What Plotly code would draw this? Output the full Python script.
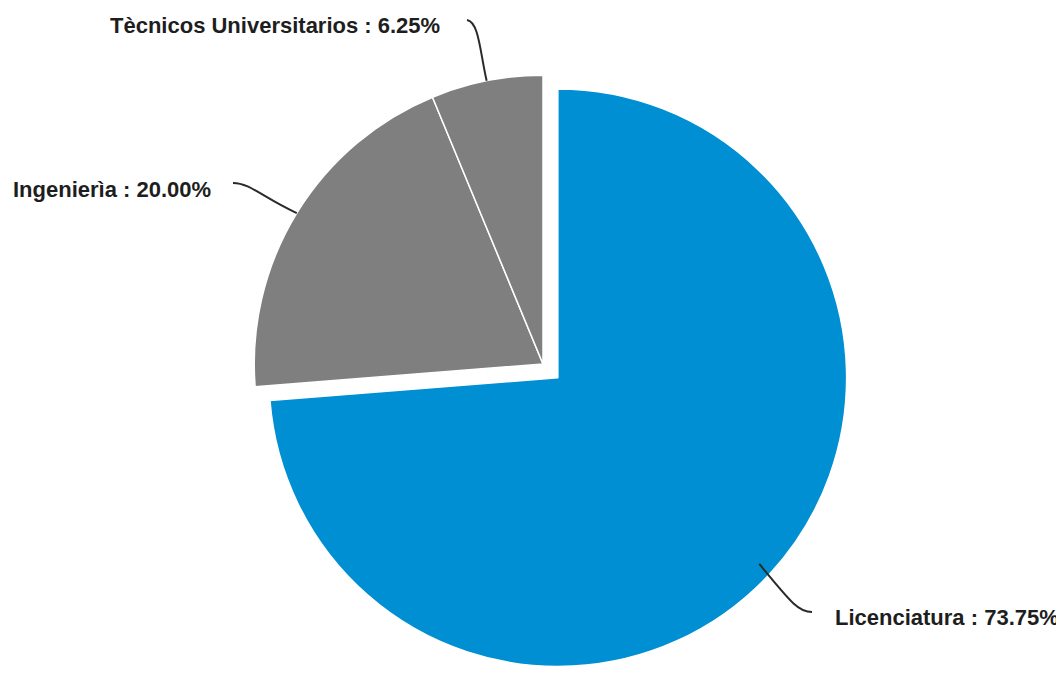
import math
import plotly.graph_objects as go

# datos del gráfico
categorias = ['Licenciatura', 'Ingenierìa', 'Tècnicos Universitarios']
porcentajes = [73.75, 20.00, 6.25]
colores = ['#008FD3', '#7F7F7F', '#7F7F7F']
separacion = [0.07, 0, 0]

# la pagina deja 8px de margen en el body
OFF = 8
W, H = 1064 - OFF, 673 - OFF
MT = 47
PULL = max(separacion)


def px(x):
    # x en pixeles de la ventana -> paper
    return (x - OFF) / W


def py(y):
    # y en pixeles de la ventana -> paper
    return (H - (y - OFF)) / (H - MT)


fig = go.Figure()

alto = H - MT
r = alto / (2 + 2 * PULL)
cx, cy = 543, OFF + MT + alto / 2

fig.add_trace(go.Pie(
    labels=categorias,
    values=porcentajes,
    sort=False,
    direction='clockwise',
    rotation=0,
    pull=separacion,
    marker=dict(colors=colores, line=dict(color='white', width=1.5)),
    textinfo='none',
    hoverinfo='label+percent',
    showlegend=False,
    domain=dict(x=[px(cx - 320), px(cx + 320)], y=[0, 1]),
))

# posiciones de los textos (pixeles) y forma de las lineas guia
etiquetas = {
    'Licenciatura': dict(x=833, y=617, anchor='left', fin=(812, 612), c1=(790, 601), c2=(798, 612), rr=0.95),
    'Ingenierìa': dict(x=213, y=189, anchor='right', fin=(233, 183), c1=(262, 197), c2=(250, 183), rr=1.0),
    'Tècnicos Universitarios': dict(x=442, y=25, anchor='right', fin=(467, 20), c1=(480, 52), c2=(479, 22), rr=1.0),
}

total = sum(porcentajes)
acum = 0
for cat, val, pl in zip(categorias, porcentajes, separacion):
    medio = (acum + val / 2) / total * 2 * math.pi
    acum += val
    dx, dy = math.sin(medio), -math.cos(medio)
    ox, oy = cx + pl * r * dx, cy + pl * r * dy
    e = etiquetas[cat]
    sx, sy = ox + e['rr'] * r * dx, oy + e['rr'] * r * dy
    path = 'M {},{} C {},{} {},{} {},{}'.format(
        px(sx), py(sy), px(e['c1'][0]), py(e['c1'][1]),
        px(e['c2'][0]), py(e['c2'][1]), px(e['fin'][0]), py(e['fin'][1]))
    fig.add_shape(type='path', path=path, xref='paper', yref='paper',
                  line=dict(color='#2a2a2a', width=2))
    fig.add_annotation(
        x=px(e['x']), y=py(e['y']), xref='paper', yref='paper',
        text=f'<b>{cat} : {val:.2f}%</b>', showarrow=False,
        xanchor=e['anchor'], yanchor='middle',
        font=dict(family='Arial, Liberation Sans, sans-serif', size=22, color='#1e1e1e'),
    )

fig.update_layout(
    width=W, height=H,
    margin=dict(l=0, r=0, t=MT, b=0),
    paper_bgcolor='white',
    plot_bgcolor='white',
)

fig.write_html("out.html")
